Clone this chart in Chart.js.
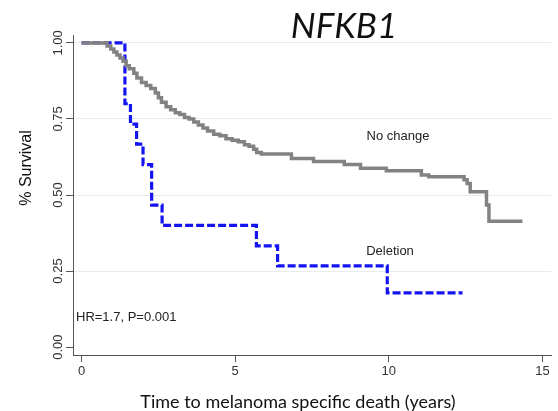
<!DOCTYPE html>
<html>
<head>
<meta charset="utf-8">
<script src="https://cdn.jsdelivr.net/npm/chart.js@4/dist/chart.umd.min.js"></script>
<style>
  body { margin: 0; background: #fff; }
</style>
</head>
<body>
<canvas id="chartKM" width="558" height="411"></canvas>
<script>
// Kaplan-Meier steps: time (years) and survival after the event
const timeNoChange = [0, 0.83, 0.95, 1.05, 1.15, 1.25, 1.35, 1.45, 1.55, 1.7, 1.8, 1.95, 2.1, 2.25, 2.4, 2.5, 2.6, 2.75, 2.9, 3.05, 3.2, 3.35, 3.5, 3.65, 3.8, 3.95, 4.1, 4.3, 4.5, 4.7, 4.9, 5.1, 5.3, 5.45, 5.6, 5.7, 5.85, 6.83, 7.55, 8.55, 9.08, 9.92, 11.06, 11.3, 12.45, 12.55, 12.65, 13.18, 13.26, 14.35];
const survNoChange = [1, 0.99, 0.98, 0.97, 0.96, 0.95, 0.94, 0.925, 0.915, 0.9, 0.885, 0.87, 0.86, 0.85, 0.835, 0.82, 0.805, 0.79, 0.78, 0.77, 0.765, 0.755, 0.75, 0.74, 0.73, 0.72, 0.71, 0.7, 0.695, 0.685, 0.68, 0.675, 0.665, 0.66, 0.65, 0.64, 0.635, 0.62, 0.61, 0.6, 0.588, 0.58, 0.566, 0.56, 0.55, 0.538, 0.511, 0.467, 0.414, 0.414];

const timeDeletion = [0, 1.41, 1.59, 1.79, 2.0, 2.28, 2.62, 5.69, 6.38, 9.95, 12.4];
const survDeletion = [1, 0.8, 0.733, 0.667, 0.6, 0.467, 0.4, 0.333, 0.267, 0.178, 0.178];

const xTicks = [0, 5, 10, 15];
const yTicks = [0, 0.25, 0.5, 0.75, 1];

const toPoints = (t, s) => t.map((v, i) => ({ x: v, y: s[i] }));

const sans = '"Liberation Sans", Arial, sans-serif';

const textPlugin = {
  id: 'texts',
  afterDraw(chart) {
    const c = chart.ctx;
    const y = chart.scales.y;
    c.save();
    // rotated y tick labels (Stata style)
    c.fillStyle = '#333';
    c.font = '13px ' + sans;
    c.textAlign = 'center';
    c.textBaseline = 'middle';
    y.ticks.forEach(t => {
      c.save();
      c.translate(58, y.getPixelForValue(t.value));
      c.rotate(-Math.PI / 2);
      c.fillText(t.value.toFixed(2), 0, 0);
      c.restore();
    });

    // y axis title
    c.fillStyle = '#111';
    c.font = '16px ' + sans;
    c.save();
    c.translate(27, 168);
    c.rotate(-Math.PI / 2);
    c.fillText('% Survival', 0, 0);
    c.restore();

    // x axis title
    c.font = '18px Lato, sans-serif';
    c.textBaseline = 'alphabetic';
    c.fillText('Time to melanoma specific death (years)', 298, 408);

    // chart title
    c.font = 'italic 35px Lato, sans-serif';
    c.fillText('NFKB1', 344, 38);

    // annotations
    c.fillStyle = '#222';
    c.font = '13px ' + sans;
    c.textBaseline = 'middle';
    c.fillText('No change', 398, 136);
    c.fillText('Deletion', 390, 251);
    c.textAlign = 'left';
    c.fillText('HR=1.7, P=0.001', 76, 317);
    c.restore();
  }
};

new Chart(document.getElementById('chartKM'), {
  type: 'line',
  data: {
    datasets: [{
      label: 'No change',
      data: toPoints(timeNoChange, survNoChange),
      borderColor: '#828282',
      borderWidth: 3.5,
      stepped: true,
      pointRadius: 0,
      fill: false
    }, {
      label: 'Deletion',
      data: toPoints(timeDeletion, survDeletion),
      borderColor: '#1414f0',
      borderWidth: 3.2,
      borderDash: [8, 3],
      stepped: true,
      pointRadius: 0,
      fill: false
    }]
  },
  options: {
    responsive: false,
    animation: false,
    layout: { padding: { left: 0, top: 35, right: 7, bottom: 0 } },
    plugins: {
      legend: { display: false },
      tooltip: { enabled: false }
    },
    scales: {
      x: {
        type: 'linear',
        min: -0.28,
        max: 15.28,
        afterBuildTicks: s => { s.ticks = xTicks.map(v => ({ value: v })); },
        afterFit: s => { s.height = 56; },
        grid: { drawOnChartArea: false, tickColor: '#555', tickLength: 7 },
        border: { color: '#555', width: 1 },
        ticks: { color: '#333', padding: 2, font: { size: 13, family: sans } }
      },
      y: {
        type: 'linear',
        min: -0.026,
        max: 1.026,
        afterBuildTicks: s => { s.ticks = yTicks.map(v => ({ value: v })); },
        afterFit: s => { s.width = 73; },
        grid: {
          color: c => (c.tick && c.tick.value === 0) ? 'rgba(0,0,0,0)' : '#e4ecef',
          tickColor: '#555',
          tickLength: 7
        },
        border: { color: '#555', width: 1 },
        ticks: { display: false }
      }
    }
  },
  plugins: [textPlugin]
});
</script>
</body>
</html>
